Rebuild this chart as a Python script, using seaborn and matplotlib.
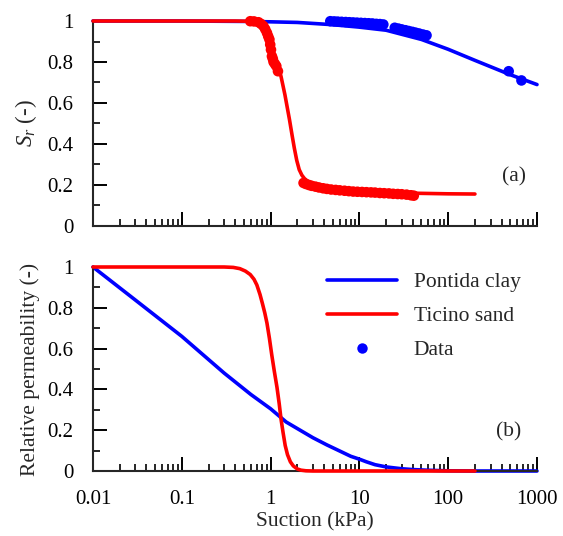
import matplotlib
matplotlib.use("Agg")
import matplotlib.pyplot as plt
from matplotlib.lines import Line2D
from matplotlib.ticker import (LogLocator, MultipleLocator, FuncFormatter,
                               NullFormatter)
import seaborn as sns

# --- Degree of saturation, model curves (suction in kPa) ---
clay_sr_suction = [0.01, 0.1, 0.5, 1, 2, 5, 10, 20, 50, 100, 200, 500, 1000]
clay_sr = [1.0, 1.0, 0.998, 0.996, 0.993, 0.982, 0.97, 0.955, 0.91, 0.862,
           0.808, 0.738, 0.69]

sand_sr_suction = [0.01, 0.1, 0.4, 0.55, 0.7, 0.85, 1.0, 1.15, 1.31, 1.45,
                   1.63, 1.75, 1.85, 1.97, 2.1, 2.25, 2.4, 2.6, 2.8, 3.0, 4.0,
                   6.0, 10, 20, 40, 100, 200]
sand_sr = [1.0, 1.0, 1.0, 0.999, 0.993, 0.97, 0.89, 0.81, 0.73, 0.64, 0.52,
           0.44, 0.38, 0.32, 0.275, 0.248, 0.232, 0.219, 0.211, 0.205, 0.19,
           0.18, 0.172, 0.165, 0.16, 0.157, 0.156]

# --- Measured degree of saturation ---
clay_data_suction = [4.7, 5.2, 5.7, 6.3, 7.0, 7.7, 8.5, 9.4, 10.4, 11.5, 12.7,
                     14, 15.5, 17, 18.6, 25, 27.5, 30, 33, 36, 39.5, 43, 47,
                     52, 57, 480, 668]
clay_data_sr = [0.999, 0.998, 0.997, 0.996, 0.995, 0.994, 0.993, 0.992, 0.991,
                0.99, 0.989, 0.988, 0.986, 0.985, 0.983, 0.967, 0.963, 0.959,
                0.955, 0.951, 0.947, 0.943, 0.939, 0.934, 0.93, 0.755, 0.71]

sand_data_suction = [0.59, 0.65, 0.73, 0.78, 0.83, 0.87, 0.91, 0.94, 0.97,
                     0.99, 1.01, 1.035, 1.06, 1.08, 1.12, 1.16, 1.21,
                     2.35, 2.5, 2.7, 2.9, 3.2, 3.5, 3.9, 4.3, 4.8, 5.4, 6.0,
                     6.8, 7.6, 8.5, 9.5, 10.7, 12, 13.5, 15, 17, 19, 21.5, 24,
                     27, 30, 34, 38, 41]
sand_data_sr = [0.999, 0.998, 0.994, 0.986, 0.975, 0.96, 0.942, 0.925, 0.91,
                0.885, 0.86, 0.828, 0.815, 0.80, 0.79, 0.78, 0.755,
                0.21, 0.205, 0.2, 0.196, 0.192, 0.188, 0.184, 0.181, 0.178,
                0.176, 0.174, 0.172, 0.17, 0.168, 0.167, 0.166, 0.165, 0.164,
                0.163, 0.161, 0.16, 0.159, 0.157, 0.156, 0.155, 0.153, 0.15,
                0.148]

# --- Relative permeability, model curves ---
clay_kr_suction = [0.01, 0.03, 0.1, 0.3, 0.6, 1, 1.5, 2, 3, 4.3, 6, 8, 10, 12,
                   15, 20, 25, 30, 40, 57, 80, 100, 200, 1000]
clay_kr = [1.0, 0.838, 0.66, 0.48, 0.375, 0.305, 0.24, 0.208, 0.163, 0.128,
           0.098, 0.072, 0.058, 0.045, 0.031, 0.02, 0.015, 0.011, 0.007,
           0.004, 0.002, 0.001, 0.0, 0.0]

sand_kr_suction = [0.01, 0.3, 0.38, 0.45, 0.52, 0.59, 0.65, 0.7, 0.76, 0.81,
                   0.86, 0.91, 0.97, 1.03, 1.1, 1.18, 1.25, 1.31, 1.38, 1.46,
                   1.55, 1.67, 1.8, 2.0, 2.2, 2.5, 3.0, 200]
sand_kr = [1.0, 1.0, 0.998, 0.992, 0.98, 0.963, 0.94, 0.912, 0.865, 0.82,
           0.775, 0.725, 0.65, 0.57, 0.49, 0.41, 0.33, 0.255, 0.19, 0.125,
           0.08, 0.045, 0.025, 0.01, 0.004, 0.001, 0.0, 0.0]

BLUE = "#0000ff"
RED = "#ff0000"
TICK_FS = 15
LABEL_FS = 15.5
LW = 2.6

sns.set_style("ticks")
plt.rcParams["font.family"] = ["Liberation Serif", "DejaVu Serif"]
plt.rcParams["mathtext.fontset"] = "custom"
plt.rcParams["mathtext.rm"] = "Liberation Serif"
plt.rcParams["mathtext.it"] = "Liberation Serif:italic"

fig = plt.figure(figsize=(5.63, 5.36), dpi=100)
W, H = 563, 536
ax1 = fig.add_axes([93 / W, 1 - 226 / H, 444 / W, 205 / H])
ax2 = fig.add_axes([93 / W, 1 - 471 / H, 444 / W, 204 / H])

line_kw = dict(estimator=None, sort=False, linewidth=LW, clip_on=False,
               legend=False)
dot_kw = dict(s=58, linewidth=0, edgecolor="none", clip_on=False, zorder=4,
              legend=False)

# (a) saturation
sns.lineplot(x=clay_sr_suction, y=clay_sr, color=BLUE, ax=ax1, zorder=2, **line_kw)
sns.lineplot(x=sand_sr_suction, y=sand_sr, color=RED, ax=ax1, zorder=3, **line_kw)
sns.scatterplot(x=clay_data_suction, y=clay_data_sr, color=BLUE, ax=ax1, **dot_kw)
sns.scatterplot(x=sand_data_suction, y=sand_data_sr, color=RED, ax=ax1, **dot_kw)

# (b) relative permeability
sns.lineplot(x=clay_kr_suction, y=clay_kr, color=BLUE, ax=ax2, zorder=2, **line_kw)
sns.lineplot(x=sand_kr_suction, y=sand_kr, color=RED, ax=ax2, zorder=3, **line_kw)

fmt = FuncFormatter(lambda v, p: f"{v:g}")
for ax in (ax1, ax2):
    ax.set_xscale("log")
    ax.set_xlim(0.01, 1000)
    ax.set_ylim(0, 1)
    ax.spines["top"].set_visible(False)
    ax.spines["right"].set_visible(False)
    ax.spines["left"].set_linewidth(1.5)
    ax.spines["bottom"].set_linewidth(1.5)
    ax.xaxis.set_major_locator(LogLocator(base=10))
    ax.xaxis.set_minor_locator(LogLocator(base=10, subs=range(2, 10)))
    ax.xaxis.set_minor_formatter(NullFormatter())
    ax.yaxis.set_major_locator(MultipleLocator(0.2))
    ax.yaxis.set_minor_locator(MultipleLocator(0.1))
    ax.yaxis.set_major_formatter(fmt)
    ax.tick_params(which="major", direction="in", length=10, width=1.4,
                   pad=14, labelsize=TICK_FS, colors="black")
    ax.tick_params(which="minor", direction="in", length=5, width=1.4)
    ax.set_xlabel("")

ax1.xaxis.set_major_formatter(NullFormatter())
ax2.xaxis.set_major_formatter(fmt)

ax1.set_ylabel(r"$S_r$ (-)", fontsize=LABEL_FS + 1, labelpad=6)
ax2.set_ylabel("Relative permeability (-)", fontsize=LABEL_FS, labelpad=5)
ax2.set_xlabel("Suction (kPa)", fontsize=LABEL_FS, labelpad=2)

ax1.text(0.949, 0.239, "(a)", transform=ax1.transAxes, fontsize=LABEL_FS,
         ha="center", va="center")
ax2.text(0.936, 0.191, "(b)", transform=ax2.transAxes, fontsize=LABEL_FS,
         ha="center", va="center")

handles = [
    Line2D([], [], color=BLUE, lw=LW, label="Pontida clay"),
    Line2D([], [], color=RED, lw=LW, label="Ticino sand"),
    Line2D([], [], color=BLUE, lw=0, marker="o", markersize=7.5,
           markeredgewidth=0, label="Data"),
]
ax2.legend(handles=handles, loc="upper left", bbox_to_anchor=(0.527, 0.975),
           frameon=False, fontsize=LABEL_FS, handlelength=3.26,
           handletextpad=0.77, labelspacing=0.65, borderpad=0,
           borderaxespad=0)

fig.savefig("out.png", dpi=100)
